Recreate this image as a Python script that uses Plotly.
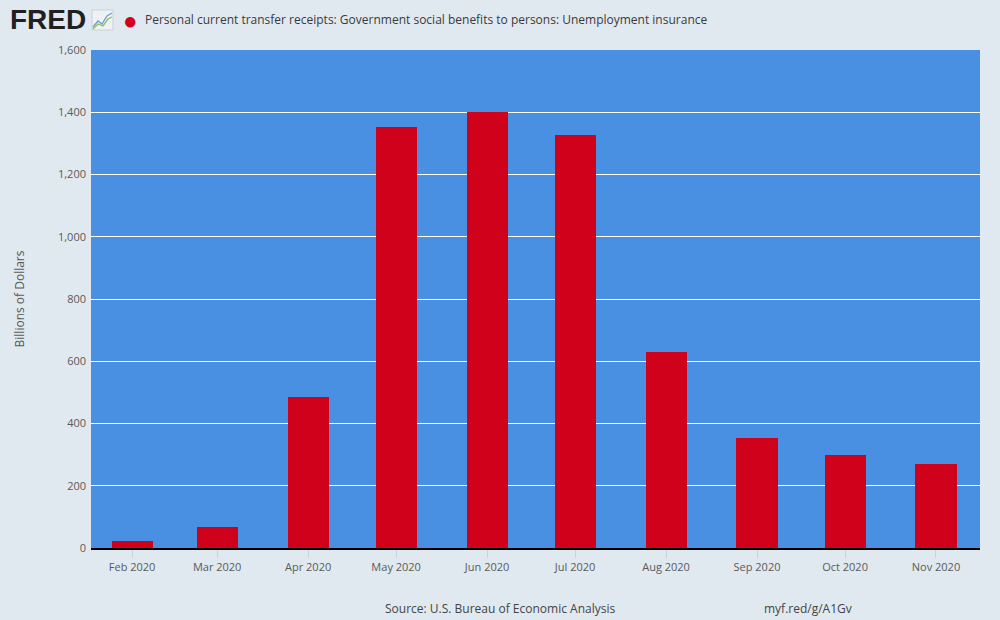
import plotly.graph_objects as go

# monthly values, billions of dollars (SAAR)
months = ["2020-02-01", "2020-03-01", "2020-04-01", "2020-05-01", "2020-06-01",
          "2020-07-01", "2020-08-01", "2020-09-01", "2020-10-01", "2020-11-01"]
values = [23, 68, 486, 1352, 1401, 1326, 631, 354, 299, 270]

y_ticks = [0, 200, 400, 600, 800, 1000, 1200, 1400, 1600]
y_labels = ["0", "200", "400", "600", "800", "1,000", "1,200", "1,400", "1,600"]

series_name = "Personal current transfer receipts: Government social benefits to persons: Unemployment insurance"

# plot area in page pixels, used to place header/footer texts
plot_l, plot_r, plot_t, plot_b = 91, 980, 50, 548


def to_paper(px, py):
    return (px - plot_l) / (plot_r - plot_l), (plot_b - py) / (plot_b - plot_t)


fig = go.Figure()
fig.add_trace(go.Bar(
    x=months,
    y=values,
    width=14 * 86400000,
    marker=dict(color="#d0011b", line_width=0),
    name=series_name,
))

fig.update_layout(
    width=1000,
    height=620,
    paper_bgcolor="#e1e9f0",
    plot_bgcolor="#4a90e2",
    font=dict(family="Open Sans", color="#595959", size=11),
    showlegend=False,
    margin=dict(l=plot_l, r=1000 - plot_r, t=plot_t, b=620 - plot_b),
    bargap=0,
)

fig.update_xaxes(
    type="date",
    range=["2020-01-18", "2020-11-16"],
    tickvals=months,
    tickformat="%b %Y",
    ticks="outside",
    ticklen=8,
    tickcolor="#c4d3e6",
    showgrid=False,
    showline=True,
    linecolor="#000000",
    linewidth=2,
    tickfont=dict(size=11, color="#595959"),
)

fig.update_yaxes(
    range=[0, 1600],
    tickvals=y_ticks,
    ticktext=y_labels,
    gridcolor="#ffffff",
    gridwidth=1,
    zeroline=False,
    showline=False,
    ticks="",
    ticklabelstandoff=4,
    tickfont=dict(size=11, color="#595959"),
    title=dict(text="Billions of Dollars", font=dict(size=12, color="#595959"), standoff=30),
)

# header: logo and legend entry
texts = [
    (8, 20, "<b>FRED</b>", dict(family="Liberation Sans", size=28, color="#231f20")),
    (121, 20, "●", dict(size=24, color="#d0011b")),
    (143, 20, series_name, dict(size=12, color="#3a3a3a")),
]
for px, py, txt, fnt in texts:
    x, y = to_paper(px, py)
    fig.add_annotation(x=x, y=y, xref="paper", yref="paper", text=txt, showarrow=False,
                       xanchor="left", yanchor="middle", font=fnt)

# small chart icon next to the logo
x0, y0 = to_paper(92, 30)
x1, y1 = to_paper(113, 10)
fig.add_shape(type="rect", xref="paper", yref="paper", x0=x0, y0=y0, x1=x1, y1=y1,
              fillcolor="#eef2f5", line=dict(color="#c9d1d8", width=1))
icon_blue = [(93, 27), (98, 21), (102, 24), (107, 16), (112, 13)]
icon_green = [(93, 29), (98, 24), (103, 26), (108, 19), (112, 17)]
for pts, col in [(icon_blue, "#6e9fd0"), (icon_green, "#8dbf5a")]:
    path = ""
    for i, (px, py) in enumerate(pts):
        x, y = to_paper(px, py)
        path += ("M" if i == 0 else "L") + f"{x},{y} "
    fig.add_shape(type="path", xref="paper", yref="paper", path=path,
                  line=dict(color=col, width=1.3))

# footer
for px, txt in [(500, "Source: U.S. Bureau of Economic Analysis"), (808, "myf.red/g/A1Gv")]:
    x, y = to_paper(px, 608)
    fig.add_annotation(x=x, y=y, xref="paper", yref="paper", text=txt, showarrow=False,
                       xanchor="center", yanchor="middle", font=dict(size=12, color="#444444"))

fig.write_html("out.html", config={"displayModeBar": False},
               post_script="document.body.style.margin='0';")
